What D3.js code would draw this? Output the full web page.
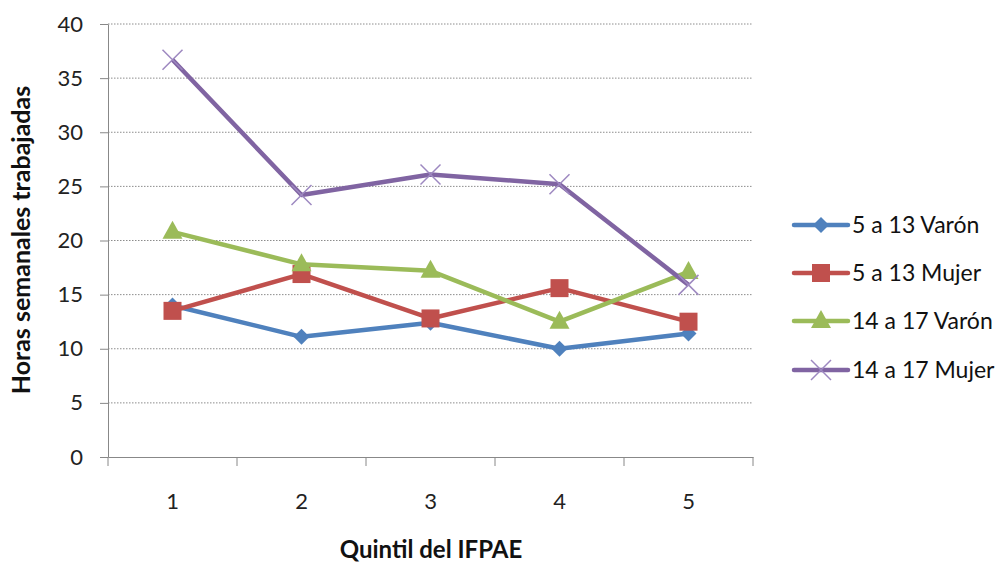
<!DOCTYPE html>
<html><head><meta charset="utf-8">
<script src="https://cdn.jsdelivr.net/npm/d3@7"></script>
<style>body{margin:0;background:#fff;} text{font-family:Lato,"Open Sans",sans-serif;}</style>
</head><body>
<svg id="c" width="1004" height="562"></svg>
<script>
const categories = ["1","2","3","4","5"];
const seriesNames = ["5 a 13 Varón","5 a 13 Mujer","14 a 17 Varón","14 a 17 Mujer"];
const varon513 = [14.0, 11.1, 12.4, 10.0, 11.4];
const mujer513 = [13.5, 16.9, 12.8, 15.6, 12.5];
const varon1417 = [20.8, 17.8, 17.2, 12.5, 17.1];
const mujer1417 = [36.7, 24.2, 26.1, 25.2, 15.9];
const yTicks = [0,5,10,15,20,25,30,35,40];
const colors = ["#4F81BD","#C0504D","#9BBB59","#8064A2"];
const markers = ["diamond","square","triangle","x"];
const data = [varon513, mujer513, varon1417, mujer1417];

const svg = d3.select("#c");
const L=108, R=753, T=24, B=457;
const x = d3.scaleBand().domain(categories).range([L,R]);
const y = d3.scaleLinear().domain([0,40]).range([B,T]);

// gridlines
svg.append("g").selectAll("line").data(yTicks.filter(d=>d>0)).join("line")
  .attr("x1",L).attr("x2",R).attr("y1",d=>y(d)).attr("y2",d=>y(d))
  .attr("stroke","#8c8c8c").attr("stroke-width",1).attr("stroke-dasharray","1.5,1.5");

// y axis
const ya = svg.append("g").attr("transform",`translate(${L},0)`)
  .call(d3.axisLeft(y).tickValues(yTicks).tickSize(8).tickPadding(17).tickSizeOuter(0));
ya.select(".domain").attr("stroke","#888");
ya.selectAll(".tick line").attr("stroke","#888");
ya.selectAll("text").attr("font-size",22).attr("fill","#222").attr("font-family","Lato,sans-serif");

// x axis
const xa = svg.append("g").attr("transform",`translate(0,${B})`)
  .call(d3.axisBottom(x).tickSize(0).tickPadding(36).tickSizeOuter(0));
xa.select(".domain").attr("stroke","#888");
xa.selectAll("text").attr("font-size",22).attr("fill","#222").attr("font-family","Lato,sans-serif");
const bounds = categories.map(c=>x(c)).concat([R]);
svg.append("g").selectAll("line").data(bounds).join("line")
  .attr("x1",d=>d).attr("x2",d=>d).attr("y1",B).attr("y2",B+9).attr("stroke","#888");

// titles
svg.append("text").attr("x",431).attr("y",558).attr("text-anchor","middle")
  .attr("font-size",24).attr("font-weight","bold").attr("fill","#111").text("Quintil del IFPAE");
svg.append("text").attr("transform","translate(30,240) rotate(-90)").attr("text-anchor","middle")
  .attr("font-size",25).attr("font-weight","bold").attr("fill","#111").text("Horas semanales trabajadas");

function drawMarker(g, type, cx, cy, color){
  if(type==="diamond"){
    g.append("path").attr("d",`M${cx},${cy-8}L${cx+8},${cy}L${cx},${cy+8}L${cx-8},${cy}Z`).attr("fill",color);
  } else if(type==="square"){
    g.append("rect").attr("x",cx-9).attr("y",cy-9).attr("width",18).attr("height",18).attr("fill",color);
  } else if(type==="triangle"){
    g.append("path").attr("d",`M${cx},${cy-11}L${cx+10},${cy+7}L${cx-10},${cy+7}Z`).attr("fill",color);
  } else {
    g.append("path").attr("d",`M${cx-10},${cy-10}L${cx+10},${cy+10}M${cx+10},${cy-10}L${cx-10},${cy+10}`)
      .attr("stroke","#9d88c0").attr("stroke-width",1.5);
  }
}

const line = d3.line().x((d,i)=>x(categories[i])+x.bandwidth()/2).y(d=>y(d));
data.forEach((vals,si)=>{
  const g = svg.append("g");
  g.append("path").attr("d",line(vals)).attr("fill","none").attr("stroke",colors[si])
    .attr("stroke-width",4.5).attr("stroke-linejoin","round");
  vals.forEach((v,i)=>drawMarker(g, markers[si], x(categories[i])+x.bandwidth()/2, y(v), colors[si]));
});

// legend
const legY = [225,273,321,370];
seriesNames.forEach((n,i)=>{
  const g = svg.append("g");
  g.append("line").attr("x1",794).attr("x2",848).attr("y1",legY[i]).attr("y2",legY[i])
    .attr("stroke",colors[i]).attr("stroke-width",4.5).attr("stroke-linecap","round");
  drawMarker(g, markers[i], 821, legY[i], colors[i]);
  g.append("text").attr("x",852).attr("y",legY[i]+8).attr("font-size",23).attr("fill","#111").text(n);
});
</script>
</body></html>
